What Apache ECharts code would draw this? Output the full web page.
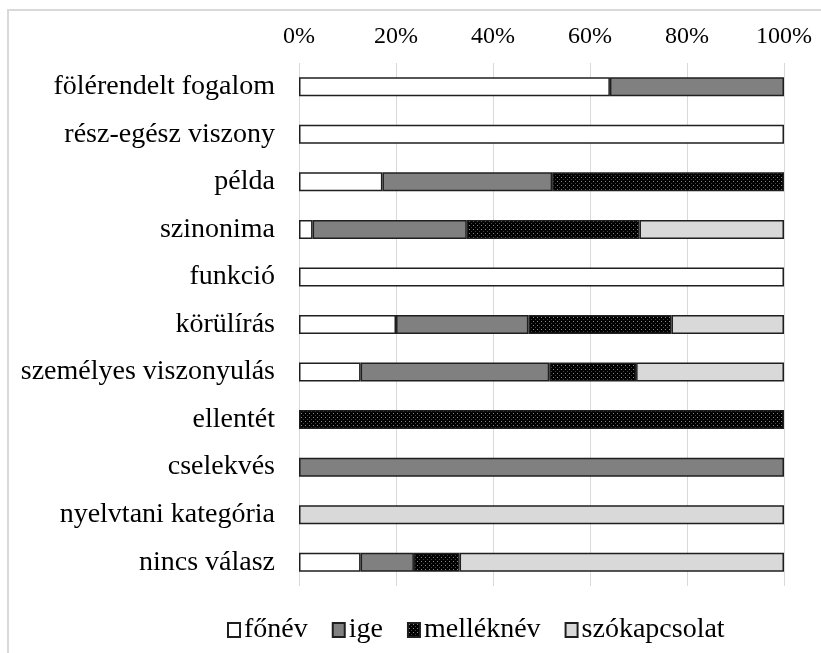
<!DOCTYPE html>
<html>
<head>
<meta charset="utf-8">
<script src="https://cdn.jsdelivr.net/npm/echarts@6/dist/echarts.min.js"></script>
<style>
  html, body { margin: 0; padding: 0; background: #fff; }
</style>
</head>
<body>
<div id="main" style="width:821px;height:653px;"></div>
<script type="text/javascript">
	// adatok
	var categories = ['fölérendelt fogalom', 'rész-egész viszony', 'példa', 'szinonima', 'funkció',
		'körülírás', 'személyes viszonyulás', 'ellentét', 'cselekvés', 'nyelvtani kategória', 'nincs válasz'];
	var fonev        = [64.1, 100, 17.2, 2.8, 100, 20.0, 12.7, 0, 0, 0, 12.7];
	var ige          = [35.9, 0, 35.0, 31.8, 0, 27.3, 38.9, 0, 100, 0, 11.0];
	var melleknev    = [0, 0, 47.8, 35.6, 0, 29.5, 17.9, 100, 0, 0, 9.4];
	var szokapcsolat = [0, 0, 0, 29.8, 0, 23.2, 30.5, 0, 0, 100, 66.9];
	var xTicks = [0, 20, 40, 60, 80, 100];

	// pöttyös minta a melléknévhez
	var pat = document.createElement('canvas');
	pat.width = 4; pat.height = 4;
	var pc = pat.getContext('2d');
	pc.fillStyle = '#000';
	pc.fillRect(0, 0, 4, 4);
	pc.fillStyle = '#8a8a8a';
	pc.fillRect(1, 1, 1, 1);
	pc.fillStyle = '#444';
	pc.fillRect(3, 3, 1, 1);

	var font = '"Liberation Serif", "Times New Roman", serif';

	var myChart = echarts.init(document.getElementById('main'));
	function bar(name, data, color) {
		return {
			name: name,
			type: 'bar',
			stack: 'all',
			barWidth: '40%',
			// a 0 értékű szakaszokat nem rajzoljuk
			data: data.map(function (v) { return v === 0 ? '-' : v; }),
			itemStyle: { color: color, borderColor: '#1f1f1f', borderWidth: 1.5 },
			emphasis: { disabled: true }
		};
	}
	var option = {
		animation: false,
		textStyle: { fontFamily: font },
		graphic: [{
			type: 'rect',
			shape: { x: 8, y: 10, width: 830, height: 660 },
			style: { fill: 'none', stroke: '#d9d9d9', lineWidth: 2 },
			z: -1
		}],
		legend: {
			bottom: 4,
			left: 222,
			itemWidth: 12,
			itemHeight: 14,
			itemGap: 24,
			textStyle: { fontFamily: font, fontSize: 28, color: '#000', padding: [0, 0, 0, -1] },
			data: [
				{ name: 'főnév', icon: 'rect' },
				{ name: 'ige', icon: 'rect' },
				{ name: 'melléknév', icon: 'rect' },
				{ name: 'szókapcsolat', icon: 'rect' }
			]
		},
		grid: {
			left: 299,
			right: 37,
			top: 63,
			bottom: 67
		},
		xAxis: {
			type: 'value',
			position: 'top',
			min: 0,
			max: 100,
			interval: 20,
			axisLine: { show: false },
			axisTick: { show: false },
			axisLabel: {
				fontFamily: font, fontSize: 24, color: '#000', margin: 14,
				formatter: function (v) { return xTicks.indexOf(v) >= 0 ? v + '%' : ''; }
			},
			splitLine: { lineStyle: { color: '#d9d9d9', width: 1 } }
		},
		yAxis: {
			type: 'category',
			inverse: true,
			data: categories,
			axisLine: { show: false },
			axisTick: { show: false },
			axisLabel: { fontFamily: font, fontSize: 28, color: '#000', margin: 24 }
		},
		series: [
			bar('főnév', fonev, '#ffffff'),
			bar('ige', ige, '#808080'),
			bar('melléknév', melleknev, { image: pat, repeat: 'repeat' }),
			bar('szókapcsolat', szokapcsolat, '#d9d9d9')
		]
	};
	myChart.setOption(option);
</script>
</body>
</html>
